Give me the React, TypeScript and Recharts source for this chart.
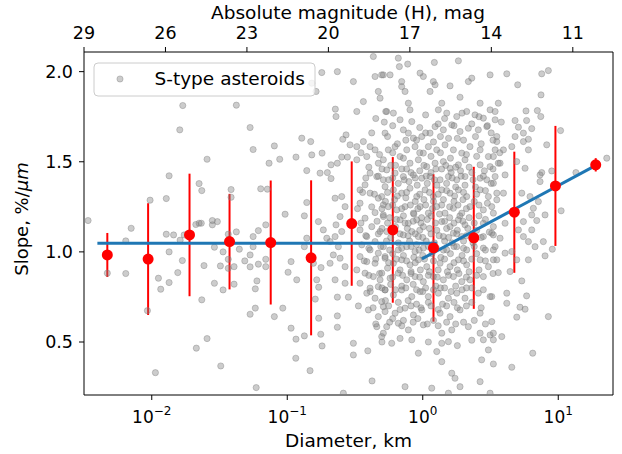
import React from 'react';
import { ScatterChart, Scatter, XAxis, YAxis, ErrorBar } from 'recharts';

const FONT = '"DejaVu Sans", sans-serif';

// S-type asteroids: [diameter km, slope %/um]
const sTypeAsteroids: [number, number][] = [
  [0.00339, 1.174], [0.00705, 1.131], [0.00643, 1.061], [0.00643, 0.88], [0.0047, 0.882], [0.00972, 1.287], [0.00929, 0.674], [0.01064, 0.33],
  [0.01343, 1.422], [0.01694, 1.812], [0.0161, 1.677], [0.0128, 1.296], [0.0128, 1.098], [0.01449, 1.094], [0.01343, 1.0], [0.0112, 0.854],
  [0.01165, 0.793], [0.01343, 0.83], [0.01556, 0.885], [0.01682, 0.952], [0.0162, 1.065], [0.01734, 1.094], [0.02115, 1.152], [0.02235, 1.159],
  [0.0232, 1.159], [0.02235, 1.379], [0.0234, 1.34], [0.0256, 1.514], [0.0243, 0.924], [0.0234, 0.734], [0.0256, 0.519], [0.02133, 0.466],
  [0.028, 1.174], [0.0305, 1.168], [0.028, 1.15], [0.0385, 1.346], [0.0385, 1.303], [0.029, 1.026], [0.0336, 1.0], [0.0321, 0.922],
  [0.029, 0.826], [0.0336, 0.789], [0.0323, 0.367], [0.0367, 1.098], [0.0421, 1.111], [0.0443, 1.015], [0.0405, 0.918], [0.0367, 0.909],
  [0.0367, 0.959], [0.0405, 0.821], [0.0421, 1.814], [0.0532, 1.69], [0.056, 1.568], [0.0637, 1.35], [0.0612, 1.118], [0.056, 1.085],
  [0.056, 1.029], [0.0486, 0.95], [0.0532, 0.917], [0.0612, 0.932], [0.0532, 0.983], [0.0597, 0.839], [0.0581, 0.795], [0.0581, 0.688],
  [0.0532, 0.654], [0.059, 0.247],
  [0.0803, 1.588], [0.088, 1.514], [0.0734, 1.492], [0.0713, 1.348], [0.0964, 1.209], [0.0694, 1.15], [0.0694, 0.959], [0.0694, 0.918],
  [0.1067, 0.946], [0.1014, 0.887], [0.1175, 0.845], [0.0927, 0.688], [0.0803, 0.641], [0.1067, 0.577], [0.116, 0.516], [0.1156, 0.41],
  [0.1337, 0.534], [0.1473, 0.341], [0.128, 1.631], [0.149, 1.612], [0.116, 1.526], [0.1517, 1.538], [0.1807, 1.548], [0.2104, 1.483],
  [0.1746, 1.437], [0.1977, 1.44], [0.1393, 1.451], [0.2104, 1.407], [0.1393, 1.274], [0.1337, 1.2], [0.1698, 1.168], [0.1846, 1.122],
  [0.1393, 1.076], [0.1337, 1.029], [0.156, 0.937], [0.1775, 0.913], [0.165, 0.845], [0.1706, 0.804], [0.161, 0.738], [0.1706, 0.632],
  [0.1767, 0.543], [0.1807, 0.478], [0.2343, 2.0], [0.1798, 1.995], [0.1517, 1.936], [0.1632, 1.89], [0.2264, 1.792], [0.229, 1.751],
  [0.257, 1.625], [0.2716, 1.649], [0.2906, 1.594], [0.326, 1.584], [0.2523, 1.526], [0.2343, 1.492], [0.278, 1.526], [0.326, 1.511],
  [0.2254, 1.298], [0.2523, 1.307], [0.2672, 1.251], [0.2453, 1.196], [0.229, 1.15], [0.2523, 1.113], [0.2254, 1.085], [0.207, 1.057],
  [0.1958, 1.076], [0.2383, 1.029], [0.2188, 0.983], [0.2453, 0.965], [0.207, 0.937], [0.2672, 0.918], [0.2254, 0.845], [0.2672, 0.826],
  [0.2343, 0.749], [0.2825, 0.749], [0.335, 0.7], [0.2343, 0.645], [0.2343, 0.582], [0.3076, 0.493], [0.3076, 0.428], [0.393, 0.451],
  [0.4225, 0.284], [0.2594, 0.216], [0.3076, 1.945], [0.3645, 1.834], [0.326, 1.779], [0.4317, 2.084], [0.4446, 1.973], [0.4977, 1.982],
  [0.4841, 1.853], [0.4699, 1.89], [0.5334, 1.779], [0.3645, 1.612], [0.4085, 1.584], [0.4446, 1.566], [0.3863, 1.529], [0.4699, 1.492],
  [0.4085, 1.437], [0.458, 1.418], [0.5117, 1.4], [0.375, 1.372], [0.3444, 1.344], [0.4085, 1.326], [0.4699, 1.298], [0.5117, 1.261],
  [0.3444, 1.27], [0.4446, 1.218], [0.5117, 1.205], [0.375, 1.187], [0.4205, 1.14], [0.4841, 1.113], [0.3444, 1.122], [0.3863, 1.085],
  [0.4446, 1.057], [0.3548, 1.039], [0.4085, 1.011], [0.4699, 0.993], [0.527, 0.974], [0.3444, 0.974], [0.3863, 0.946], [0.4446, 0.937],
  [0.326, 0.9], [0.375, 0.882], [0.4317, 0.863], [0.4841, 0.845], [0.3444, 0.826], [0.4085, 0.799], [0.4699, 0.807], [0.527, 0.789],
  [0.3863, 0.771], [0.4446, 0.743], [0.4977, 0.724], [0.397, 0.678], [0.4699, 0.641], [0.527, 0.669], [0.458, 0.585], [0.5117, 0.549],
  [0.66, 2.075], [0.774, 2.042], [0.672, 2.028], [1.218, 2.051], [1.832, 2.06], [3.14, 1.982], [0.512, 1.982], [0.574, 1.982],
  [0.699, 1.945], [0.699, 1.917], [0.74, 1.89], [0.955, 1.992], [1.01, 1.973], [1.197, 1.945], [1.233, 1.927], [1.132, 1.89],
  [1.59, 1.921], [1.884, 1.858], [2.17, 1.945], [2.3, 1.964], [2.65, 1.825], [3.14, 1.788], [0.542, 1.779], [0.607, 1.77],
  [0.783, 1.825], [0.805, 1.788], [1.381, 1.825], [1.303, 1.788], [1.503, 1.77], [1.782, 1.751], [2.11, 1.779], [2.43, 1.76],
  [2.8, 1.742], [3.42, 1.733], [0.68, 1.733], [0.83, 1.723], [0.719, 1.677], [0.783, 1.659], [0.853, 1.631], [0.984, 1.64],
  [1.132, 1.659], [1.233, 1.695], [1.419, 1.677], [1.637, 1.705], [1.884, 1.668], [2.17, 1.686], [2.57, 1.677], [2.97, 1.695],
  [3.52, 1.64], [0.527, 1.659], [0.557, 1.566], [0.625, 1.584], [0.512, 1.511], [0.68, 1.529], [0.762, 1.566], [0.877, 1.584],
  [1.01, 1.548], [1.1, 1.584], [1.268, 1.566], [1.46, 1.594], [1.683, 1.566], [1.94, 1.548], [2.23, 1.584], [2.65, 1.566],
  [3.05, 1.529], [3.42, 1.566], [0.805, 1.492], [0.928, 1.511], [1.07, 1.473], [1.233, 1.492], [1.419, 1.501], [1.59, 1.464],
  [1.832, 1.483], [2.05, 1.511], [2.65, 1.483], [3.14, 1.473], [3.61, 1.492], [0.542, 1.455], [0.625, 1.437], [0.719, 1.418],
  [0.853, 1.427], [0.984, 1.409], [1.132, 1.418], [1.342, 1.4], [1.546, 1.418], [1.782, 1.4], [2.05, 1.418], [2.65, 1.409],
  [2.97, 1.4], [3.42, 1.418], [0.527, 1.362], [0.498, 1.307], [0.607, 1.344], [0.699, 1.326], [0.805, 1.353], [0.903, 1.307],
  [1.04, 1.344], [1.197, 1.307], [1.381, 1.344], [1.59, 1.326], [1.832, 1.344], [2.11, 1.307], [2.65, 1.344], [3.05, 1.307],
  [3.52, 1.326], [0.557, 1.251], [0.643, 1.233], [0.74, 1.251], [0.853, 1.215], [0.955, 1.251], [1.1, 1.215], [1.268, 1.251],
  [1.46, 1.215], [1.683, 1.242], [1.94, 1.215], [2.23, 1.251], [2.8, 1.233], [3.23, 1.251], [0.512, 1.196], [0.68, 1.178],
  [0.783, 1.159], [0.903, 1.178], [1.01, 1.14], [1.381, 1.168], [1.59, 1.14], [1.832, 1.178], [2.05, 1.15], [2.8, 1.159],
  [3.32, 1.14], [0.542, 1.113], [0.719, 1.094], [0.83, 1.113], [0.928, 1.085], [1.419, 1.085], [1.683, 1.104], [1.94, 1.085],
  [2.8, 1.085], [3.32, 1.094], [0.512, 1.029], [0.66, 1.011], [0.762, 1.029], [0.877, 1.002], [1.01, 1.021], [1.503, 1.011],
  [1.782, 1.029], [2.11, 1.011], [2.8, 1.021], [3.32, 1.011], [0.527, 0.965], [0.607, 0.937], [0.699, 0.956], [0.805, 0.928],
  [0.928, 0.956], [1.07, 0.918], [1.342, 0.937], [1.59, 0.918], [1.832, 0.956], [2.11, 0.928], [2.65, 0.956], [3.05, 0.918],
  [3.52, 0.956], [0.498, 0.882], [0.574, 0.854], [0.66, 0.882], [0.762, 0.845], [0.877, 0.863], [1.01, 0.835], [1.197, 0.863],
  [1.419, 0.845], [1.683, 0.863], [1.94, 0.835], [2.23, 0.845], [2.8, 0.863], [0.527, 0.789], [0.607, 0.761], [0.699, 0.789],
  [0.83, 0.752], [0.955, 0.78], [1.1, 0.752], [1.303, 0.771], [1.546, 0.743], [1.782, 0.771], [2.05, 0.743], [2.57, 0.771],
  [3.14, 0.752], [0.512, 0.696], [0.625, 0.66], [0.74, 0.688], [0.853, 0.65], [0.984, 0.678], [1.342, 0.66], [1.59, 0.641],
  [1.884, 0.678], [2.65, 0.66], [0.542, 0.585], [0.66, 0.604], [0.783, 0.567], [1.01, 0.595], [1.381, 0.549], [1.637, 0.567],
  [2.17, 0.585], [2.65, 0.549], [3.14, 0.539], [0.59, 0.493], [0.83, 0.512], [1.381, 0.493], [1.546, 0.502], [2.8, 0.512],
  [3.05, 0.456], [0.928, 0.438], [1.268, 0.447], [1.381, 0.391], [2.72, 0.401], [1.637, 0.327], [1.73, 0.299], [2.65, 0.28],
  [0.74, 0.252], [1.165, 0.244], [1.884, 0.252], [1.546, 0.216], [0.498, 0.53],
  [0.58, 1.48], [0.7, 1.46], [0.82, 1.44], [0.95, 1.45], [1.15, 1.44], [1.38, 1.46], [1.62, 1.44], [1.9, 1.45], [2.3, 1.44], [2.85, 1.45],
  [0.56, 1.4], [0.66, 1.38], [0.79, 1.39], [0.91, 1.37], [1.08, 1.38], [1.27, 1.37], [1.5, 1.38], [1.75, 1.36], [2.05, 1.37], [2.45, 1.36],
  [3.2, 1.38], [0.53, 1.28], [0.62, 1.29], [0.75, 1.3], [0.88, 1.28], [1.02, 1.29], [1.2, 1.28], [1.42, 1.29], [1.7, 1.28], [1.98, 1.29],
  [2.4, 1.28], [3.0, 1.27], [0.57, 1.19], [0.72, 1.2], [0.86, 1.21], [0.98, 1.19], [1.15, 1.2], [1.33, 1.21], [1.58, 1.19], [1.88, 1.2],
  [2.2, 1.19], [2.6, 1.2], [0.5, 1.13], [0.63, 1.14], [0.77, 1.13], [0.95, 1.12], [1.12, 1.13], [1.27, 1.12], [1.5, 1.13], [1.8, 1.12],
  [2.15, 1.13], [2.5, 1.12], [3.1, 1.11], [0.54, 1.06], [0.66, 1.05], [0.8, 1.06], [0.9, 1.04], [1.06, 1.06], [1.22, 1.05], [1.45, 1.06],
  [1.65, 1.05], [2.0, 1.06], [2.35, 1.05], [0.6, 0.99], [0.72, 0.98], [0.86, 0.97], [1.0, 0.98], [1.17, 0.99], [1.36, 0.97], [1.6, 0.99],
  [1.95, 0.98], [2.5, 0.99], [0.55, 0.91], [0.68, 0.9], [0.82, 0.89], [0.96, 0.9], [1.12, 0.89], [1.3, 0.9], [1.52, 0.89], [1.8, 0.9],
  [2.2, 0.89], [2.6, 0.9], [0.58, 0.82], [0.7, 0.81], [0.85, 0.82], [1.05, 0.8], [1.25, 0.81], [1.45, 0.8], [1.75, 0.81], [2.1, 0.8],
  [0.53, 0.73], [0.66, 0.72], [0.78, 0.73], [0.9, 0.71], [1.1, 0.72], [1.4, 0.71], [1.7, 0.72], [2.3, 0.72], [0.6, 0.63], [0.72, 0.62],
  [0.92, 0.63], [1.2, 0.62], [1.5, 0.61], [2.4, 0.62], [0.65, 1.6], [0.9, 1.62], [1.2, 1.61], [1.55, 1.63], [2.0, 1.62], [2.7, 1.6],
  [3.3, 1.62], [0.6, 1.7], [0.95, 1.69], [1.3, 1.71], [1.7, 1.7], [2.3, 1.71], [3.0, 1.7],
  [0.45, 1.74], [0.52, 1.72], [1.05, 1.76], [1.45, 1.74], [1.95, 1.77], [2.6, 1.75], [3.8, 1.72],
  [0.42, 1.66], [0.55, 1.64], [0.75, 1.62], [1.05, 1.66], [1.35, 1.64], [1.8, 1.63], [2.45, 1.64], [3.2, 1.66],
  [0.35, 1.55], [0.48, 1.54], [0.6, 1.55], [0.72, 1.52], [0.95, 1.55], [1.15, 1.53], [1.35, 1.55], [1.6, 1.52], [2.1, 1.54], [2.5, 1.53], [3.7, 1.55],
  [0.4, 1.47], [0.5, 1.46], [0.63, 1.48], [0.76, 1.46], [1.02, 1.48], [1.25, 1.46], [1.48, 1.48], [1.75, 1.47], [2.2, 1.47], [3.3, 1.46],
  [0.38, 1.41], [0.47, 1.42], [0.6, 1.41], [0.73, 1.4], [0.88, 1.41], [1.06, 1.42], [1.22, 1.4], [1.65, 1.41], [1.92, 1.42], [2.35, 1.4], [2.8, 1.42],
  [0.36, 1.33], [0.44, 1.32], [0.55, 1.33], [0.65, 1.31], [0.76, 1.33], [0.95, 1.32], [1.12, 1.33], [1.3, 1.32], [1.5, 1.34], [1.72, 1.31],
  [2.0, 1.33], [2.5, 1.32], [2.9, 1.34],
  [0.33, 1.24], [0.42, 1.25], [0.5, 1.24], [0.6, 1.26], [0.7, 1.24], [0.81, 1.26], [0.92, 1.24], [1.05, 1.26], [1.18, 1.24], [1.38, 1.26],
  [1.58, 1.25], [1.82, 1.26], [2.1, 1.24], [2.6, 1.26],
  [0.35, 1.16], [0.46, 1.17], [0.55, 1.16], [0.64, 1.18], [0.74, 1.16], [0.85, 1.17], [0.97, 1.16], [1.08, 1.18], [1.24, 1.16], [1.45, 1.17],
  [1.7, 1.16], [1.98, 1.17], [2.4, 1.16], [2.9, 1.18],
  [0.38, 1.09], [0.47, 1.1], [0.58, 1.08], [0.68, 1.1], [0.78, 1.09], [0.88, 1.1], [1.0, 1.08], [1.15, 1.1], [1.32, 1.09], [1.55, 1.08],
  [1.78, 1.1], [2.1, 1.09], [2.7, 1.08],
  [0.4, 1.02], [0.49, 1.03], [0.57, 1.01], [0.7, 1.02], [0.82, 1.03], [0.94, 1.01], [1.1, 1.03], [1.26, 1.02], [1.42, 1.01], [1.7, 1.03],
  [2.0, 1.02], [2.4, 1.03], [2.9, 1.01],
  [0.37, 0.95], [0.45, 0.96], [0.56, 0.94], [0.64, 0.96], [0.76, 0.95], [0.88, 0.94], [1.03, 0.96], [1.2, 0.95], [1.45, 0.96], [1.7, 0.94],
  [2.0, 0.95], [2.3, 0.96], [2.9, 0.95],
  [0.4, 0.87], [0.48, 0.88], [0.6, 0.86], [0.71, 0.87], [0.82, 0.88], [0.95, 0.86], [1.1, 0.87], [1.28, 0.86], [1.55, 0.87], [1.85, 0.88],
  [2.1, 0.86], [2.5, 0.87], [3.3, 0.88],
  [0.41, 0.78], [0.5, 0.8], [0.63, 0.79], [0.75, 0.8], [0.9, 0.79], [1.0, 0.78], [1.2, 0.79], [1.35, 0.8], [1.62, 0.78], [1.95, 0.79],
  [2.3, 0.8], [2.8, 0.79],
  [0.43, 0.69], [0.56, 0.7], [0.68, 0.68], [0.82, 0.7], [0.97, 0.69], [1.15, 0.7], [1.3, 0.68], [1.5, 0.7], [1.8, 0.69], [2.1, 0.7], [2.7, 0.69],
  [0.45, 0.6], [0.57, 0.61], [0.7, 0.59], [0.85, 0.61], [1.08, 0.6], [1.3, 0.59], [1.75, 0.6], [2.0, 0.61], [2.9, 0.6],
  [0.5, 0.5], [0.68, 0.52], [1.1, 0.5], [1.8, 0.48], [2.3, 0.51],
  [4.17, 1.988], [7.55, 1.988], [8.45, 2.006], [5.02, 1.927], [7.46, 1.871], [3.61, 1.825], [3.42, 1.779], [5.78, 1.782],
  [7.01, 1.784], [7.43, 1.751], [4.8, 1.729], [5.84, 1.729], [5.08, 1.692], [6.37, 1.684], [10.4, 1.673], [5.53, 1.659],
  [4.8, 1.64], [6.02, 1.625], [5.53, 1.612], [3.52, 1.612], [3.94, 1.566], [4.54, 1.584], [6.02, 1.566], [8.22, 1.594],
  [22.8, 1.52], [13.5, 1.44], [3.32, 1.529], [3.72, 1.492], [4.94, 1.501], [5.69, 1.464], [4.05, 1.427], [7.34, 1.427],
  [7.55, 1.44], [8.95, 1.449], [7.34, 1.39], [3.32, 1.381], [3.94, 1.326], [5.38, 1.326], [6.19, 1.307], [3.52, 1.289],
  [7.13, 1.279], [6.55, 1.242], [6.37, 1.205], [7.99, 1.205], [10.5, 1.228], [3.32, 1.215], [4.05, 1.159], [5.53, 1.168],
  [6.94, 1.174], [6.37, 1.122], [5.08, 1.122], [3.23, 1.104], [3.72, 1.076], [5.53, 1.085], [6.02, 1.057], [7.76, 1.057],
  [3.42, 1.029], [4.05, 0.993], [4.54, 1.002], [6.74, 1.029], [9.04, 1.015], [4.94, 0.956], [6.02, 0.956], [7.99, 0.978],
  [3.32, 0.956], [3.61, 0.885], [4.41, 0.891], [5.38, 0.839], [3.23, 0.752], [4.17, 0.771], [4.17, 0.715], [5.84, 0.756],
  [5.22, 0.693], [5.69, 0.682], [4.94, 0.638], [8.45, 0.641], [3.23, 0.613], [3.32, 0.549], [3.83, 0.53], [3.32, 0.512],
  [6.48, 0.438], [3.32, 0.378], [4.54, 0.36], [3.14, 0.216],
];

// binned means with their spread
const binDiameterKm = [0.0047, 0.0094, 0.019, 0.0375, 0.0755, 0.15, 0.299, 0.601, 1.2, 2.38, 4.74, 9.53, 18.9];
const binSlope = [0.983, 0.96, 1.094, 1.057, 1.052, 0.967, 1.157, 1.122, 1.022, 1.078, 1.22, 1.366, 1.483];
const binError = [0.122, 0.31, 0.34, 0.265, 0.344, 0.43, 0.345, 0.404, 0.409, 0.394, 0.336, 0.333, 0.037];

// fitted trends
const flatFitDiameterKm = [0.00397, 1.27];
const flatFitSlope = [1.048, 1.048];
const risingFitDiameterKm = [0.985, 18.2];
const risingFitSlope = [0.961, 1.473];

const diameterTicks = [0.01, 0.1, 1, 10];
const magnitudeTicks = [29, 26, 23, 20, 17, 14, 11];
const slopeTicks = [0.5, 1.0, 1.5, 2.0];

const X_DOMAIN = [Math.pow(10, -2.5), Math.pow(10, 1.404)];
const H_DOMAIN = [9.52, 29.0];
const Y_DOMAIN = [0.206, 2.109];

const grayData = sTypeAsteroids.map(([d, s]) => ({ x: d, y: s }));
const binData = binDiameterKm.map((d, i) => ({ x: d, y: binSlope[i], err: binError[i] }));
const flatFit = flatFitDiameterKm.map((d, i) => ({ x: d, y: flatFitSlope[i] }));
const risingFit = risingFitDiameterKm.map((d, i) => ({ x: d, y: risingFitSlope[i] }));
// nothing is drawn for this one, it only keeps the top and right axes alive
const magnitudeAnchors = magnitudeTicks.map((h) => ({ x: h, y: 1 }));

const GrayDot = (props: any) => (
  <circle cx={props.cx} cy={props.cy} r={3.1} fill="#808080" fillOpacity={0.4}
    stroke="#808080" strokeOpacity={0.4} strokeWidth={1} />
);

const RedDot = (props: any) => <circle cx={props.cx} cy={props.cy} r={5.5} fill="#ff0000" />;

const BottomTick = (props: any) => {
  const { x, y, payload } = props;
  const exp = Math.round(Math.log10(payload.value));
  const sup = exp < 0 ? `\u2212${-exp}` : `${exp}`;
  return (
    <g>
      <line x1={x} x2={x} y1={y} y2={y + 5} stroke="#000" strokeWidth={1} />
      <text x={x} y={y + 28} textAnchor="middle" fontFamily={FONT} fontSize={17} fill="#000">
        10<tspan dy={-8} fontSize={12}>{sup}</tspan>
      </text>
    </g>
  );
};

const TopTick = (props: any) => {
  const { x, y, payload } = props;
  return (
    <g>
      <line x1={x} x2={x} y1={y} y2={y - 5} stroke="#000" strokeWidth={1} />
      <text x={x} y={y - 13.5} textAnchor="middle" fontFamily={FONT} fontSize={17.5} fill="#000">
        {payload.value}
      </text>
    </g>
  );
};

const LeftTick = (props: any) => {
  const { x, y, payload } = props;
  return (
    <g>
      <line x1={x - 5} x2={x} y1={y} y2={y} stroke="#000" strokeWidth={1} />
      <text x={x - 11} y={y + 6.3} textAnchor="end" fontFamily={FONT} fontSize={17.5} fill="#000">
        {Number(payload.value).toFixed(1)}
      </text>
    </g>
  );
};

export default function App() {
  return (
    <div style={{ position: 'absolute', left: 0, top: 0, width: 622, height: 454, background: '#fff' }}>
      <ScatterChart width={622} height={454} margin={{ top: 0, right: 0, bottom: 0, left: 0 }}>
        <XAxis xAxisId={0} dataKey="x" type="number" scale="log" domain={X_DOMAIN} allowDataOverflow
          ticks={diameterTicks} tick={<BottomTick />} tickLine={false} tickSize={0} tickMargin={0}
          height={59} axisLine={{ stroke: '#000' }} />
        <XAxis xAxisId="top" dataKey="x" orientation="top" type="number" domain={H_DOMAIN} reversed allowDataOverflow
          ticks={magnitudeTicks} tick={<TopTick />} tickLine={false} tickSize={0} tickMargin={0}
          height={52} axisLine={{ stroke: '#000' }} />
        <YAxis yAxisId={0} dataKey="y" type="number" domain={Y_DOMAIN} allowDataOverflow
          ticks={slopeTicks} tick={<LeftTick />} tickLine={false} tickSize={0} tickMargin={0}
          width={84} axisLine={{ stroke: '#000' }} />
        <YAxis yAxisId="right" dataKey="y" orientation="right" type="number" domain={Y_DOMAIN} allowDataOverflow
          tick={false} tickLine={false} width={9} axisLine={{ stroke: '#000' }} />
        <Scatter data={magnitudeAnchors} xAxisId="top" yAxisId="right" shape={() => <g />} isAnimationActive={false} />
        <Scatter data={grayData} shape={<GrayDot />} isAnimationActive={false} />
        <Scatter data={flatFit} line={{ stroke: '#1f77b4', strokeWidth: 3 }} lineType="joint"
          shape={() => <g />} isAnimationActive={false} />
        <Scatter data={risingFit} line={{ stroke: '#1f77b4', strokeWidth: 3 }} lineType="joint"
          shape={() => <g />} isAnimationActive={false} />
        <Scatter data={binData} shape={<RedDot />} isAnimationActive={false}>
          <ErrorBar dataKey="err" direction="y" width={0} stroke="#ff0000" strokeWidth={2} />
        </Scatter>
      </ScatterChart>
      <svg width={622} height={454} style={{ position: 'absolute', left: 0, top: 0, pointerEvents: 'none' }}>
        <text x={348} y={18.5} textAnchor="middle" fontFamily={FONT} fontSize={18.5} fill="#000">
          Absolute magnitude (H), mag
        </text>
        <text x={348.5} y={447} textAnchor="middle" fontFamily={FONT} fontSize={18.5} fill="#000">
          Diameter, km
        </text>
        <text transform="translate(28,219) rotate(-90)" textAnchor="middle" fontFamily={FONT} fontSize={18} fill="#000">
          Slope, %/<tspan fontStyle="italic">μm</tspan>
        </text>
        <rect x={94} y={63} width={221} height={33} rx={4} fill="#fff" fillOpacity={0.8} stroke="#cccccc" strokeWidth={1} />
        <circle cx={120} cy={79} r={3.1} fill="#808080" fillOpacity={0.4} stroke="#808080" strokeOpacity={0.4} strokeWidth={1} />
        <text x={154.5} y={84.5} fontFamily={FONT} fontSize={18.5} fill="#000">S-type asteroids</text>
      </svg>
    </div>
  );
}
